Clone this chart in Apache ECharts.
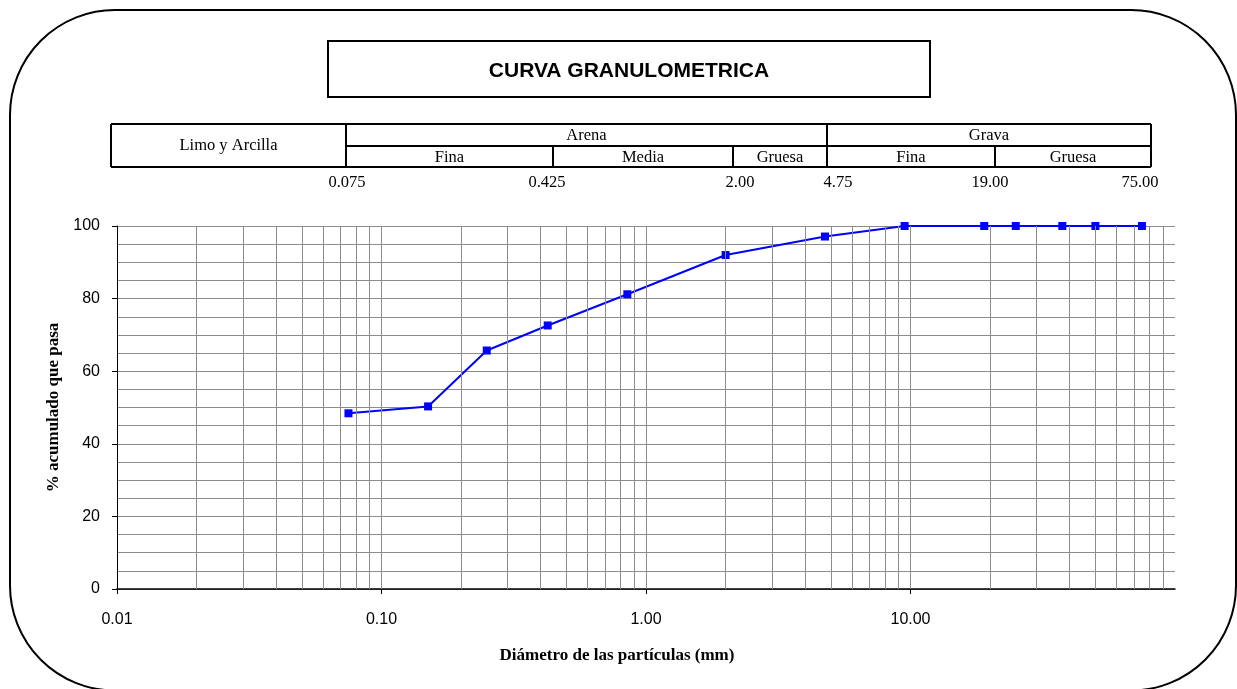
<!DOCTYPE html>
<html>
<head>
<meta charset="utf-8">
<title>Curva granulométrica</title>
<script src="https://cdn.jsdelivr.net/npm/echarts@6/dist/echarts.min.js"></script>
<style>
  html, body { margin: 0; padding: 0; background: #ffffff; }
  #chart { width: 1237px; height: 689px; }
</style>
</head>
<body>
<div id="chart"></div>
<script>
// Sieve openings (mm) and cumulative percentage passing
const diametros = [0.075, 0.15, 0.25, 0.425, 0.85, 2.0, 4.75, 9.5, 19, 25, 37.5, 50, 75];
const pasa = [48.4, 50.3, 65.7, 72.6, 81.2, 92.0, 97.1, 100, 100, 100, 100, 100, 100];

// Vertical log-grid positions: 2..9 within each decade plus the decade marks
const lineasVerticales = [
  0.02, 0.03, 0.04, 0.05, 0.06, 0.07, 0.08, 0.09, 0.1,
  0.2, 0.3, 0.4, 0.5, 0.6, 0.7, 0.8, 0.9, 1,
  2, 3, 4, 5, 6, 7, 8, 9, 10,
  20, 30, 40, 50, 60, 70, 80, 90
];

// Soil classification header
const claseFinos = 'Limo y Arcilla';
const grupos = ['Arena', 'Grava'];
const subgrupos = ['Fina', 'Media', 'Gruesa', 'Fina', 'Gruesa'];
const limites = ['0.075', '0.425', '2.00', '4.75', '19.00', '75.00'];

const titulo = 'CURVA GRANULOMETRICA';
const tituloX = 'Diámetro de las partículas (mm)';
const tituloY = '% acumulado que pasa';

// Header table layout (pixels)
const T = { left: 111, right: 1151, top: 124, mid: 146, bottom: 167 };
const colFinos = 346;                           // end of "Limo y Arcilla"
const colGrupos = [346, 827, 1151];             // Arena | Grava
const colSub = [346, 553, 733, 827, 995, 1151]; // sub-columns
const limitesX = [347, 547, 740, 838, 990, 1140];

const serif = '"Liberation Serif", "Times New Roman", serif';
const sans = '"Liberation Sans", Arial, sans-serif';

const graphics = [];
// rounded frame
graphics.push({
  type: 'rect', shape: { x: 10, y: 10, width: 1226, height: 680.5, r: 105 },
  style: { fill: 'none', stroke: '#000', lineWidth: 2 }, silent: true
});
// title box
graphics.push({
  type: 'rect', shape: { x: 328, y: 41, width: 602, height: 56 },
  style: { fill: '#fff', stroke: '#000', lineWidth: 2 }, silent: true
});
graphics.push({
  type: 'text', x: 629, y: 71,
  style: { text: titulo, font: 'bold 21px ' + sans, fill: '#000', textAlign: 'center', textVerticalAlign: 'middle' }
});

// table outline and rules
const seg = (x1, y1, x2, y2) => graphics.push({
  type: 'line', shape: { x1, y1, x2, y2 },
  style: { stroke: '#000', lineWidth: 2 }, silent: true
});
seg(T.left, T.top, T.right, T.top);
seg(T.left, T.bottom, T.right, T.bottom);
seg(T.left, T.top, T.left, T.bottom);
seg(T.right, T.top, T.right, T.bottom);
seg(colFinos, T.mid, T.right, T.mid);
colGrupos.forEach(x => seg(x, T.top, x, T.bottom));
colSub.forEach(x => seg(x, T.mid, x, T.bottom));

const txt = (s, x, y) => graphics.push({
  type: 'text', x, y,
  style: { text: s, font: '16.5px ' + serif, fill: '#000', textAlign: 'center', textVerticalAlign: 'middle' }
});
txt(claseFinos, (T.left + colFinos) / 2, (T.top + T.bottom) / 2);
grupos.forEach((g, i) => txt(g, (colGrupos[i] + colGrupos[i + 1]) / 2, (T.top + T.mid) / 2 + 1));
subgrupos.forEach((g, i) => txt(g, (colSub[i] + colSub[i + 1]) / 2, (T.mid + T.bottom) / 2 + 1));
limites.forEach((l, i) => txt(l, limitesX[i], 183));

// x-axis title
graphics.push({
  type: 'text', x: 617, y: 656,
  style: { text: tituloX, font: 'bold 17px ' + serif, fill: '#000', textAlign: 'center', textVerticalAlign: 'middle' }
});

const chart = echarts.init(document.getElementById('chart'), null, { renderer: 'canvas' });
chart.setOption({
  animation: false,
  backgroundColor: '#ffffff',
  grid: { left: 117, right: 62, top: 226, bottom: 100, containLabel: false },
  xAxis: {
    type: 'log', logBase: 10, min: 0.01, max: 100,
    axisLine: { show: true, onZero: false, lineStyle: { color: '#000', width: 1.5 } },
    axisTick: { show: true, length: 5, lineStyle: { color: '#000' } },
    axisLabel: {
      color: '#000', fontFamily: sans, fontSize: 16, margin: 23,
      showMaxLabel: false,
      formatter: v => Number(v).toFixed(2)
    },
    splitLine: { show: false },
    minorTick: { show: false }
  },
  yAxis: {
    type: 'value', min: 0, max: 100, interval: 20,
    name: tituloY, nameLocation: 'middle', nameGap: 49, nameRotate: 90,
    nameTextStyle: { fontFamily: serif, fontWeight: 'bold', fontSize: 17, color: '#000' },
    axisLine: { show: true, lineStyle: { color: '#000', width: 1 } },
    axisTick: { show: true, length: 5, lineStyle: { color: '#000' } },
    axisLabel: { color: '#000', fontFamily: sans, fontSize: 16, margin: 17 },
    splitLine: { show: true, lineStyle: { color: '#8c8c8c', width: 1 } },
    minorTick: { show: false, splitNumber: 4 },
    minorSplitLine: { show: true, lineStyle: { color: '#8c8c8c', width: 1 } }
  },
  graphic: graphics,
  series: [
    {
      type: 'line', data: [], silent: true, z: 1,
      markLine: {
        silent: true, symbol: 'none', animation: false,
        label: { show: false },
        lineStyle: { color: '#8c8c8c', width: 1, type: 'solid' },
        data: lineasVerticales.map(v => ({ xAxis: v }))
      }
    },
    {
      type: 'line', z: 3,
      data: diametros.map((d, i) => [d, pasa[i]]),
      symbol: 'rect', symbolSize: 8,
      itemStyle: { color: '#0000ff' },
      lineStyle: { color: '#0000ff', width: 2 },
      clip: true
    }
  ]
});
</script>
</body>
</html>
